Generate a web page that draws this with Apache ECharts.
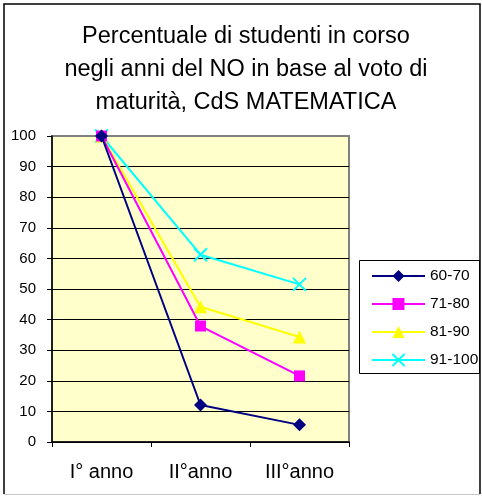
<!DOCTYPE html>
<html>
<head>
<meta charset="utf-8">
<script src="https://cdn.jsdelivr.net/npm/echarts@6/dist/echarts.min.js"></script>
<style>html,body{margin:0;padding:0;background:#fff}#c{width:482px;height:496px}</style>
</head>
<body>
<div id="c"></div>
<script>
const categories = ['I° anno', 'II°anno', 'III°anno'];
const seriesNames = ['60-70', '71-80', '81-90', '91-100'];
const v6070 = [100, 12.1, 5.6];
const v7180 = [100, 37.9, 21.6];
const v8190 = [100, 44.2, 34.3];
const v91100 = [100, 61.2, 51.5];
const yTicks = [0, 10, 20, 30, 40, 50, 60, 70, 80, 90, 100];

const colors = ['#000080', '#FF00FF', '#FFFF00', '#00FFFF'];
const symbols = ['diamond', 'rect', 'triangle', 'path://M0,0L10,10M10,0L0,10'];
const symbolSizes = [13, 11, 13, 13];
const values = [v6070, v7180, v8190, v91100];

const chart = echarts.init(document.getElementById('c'), null, {renderer: 'canvas'});
const font = 'Liberation Sans, Arial, sans-serif';

const splitColors = yTicks.map((t, i) => i === yTicks.length - 1 ? '#808080' : '#000000');

chart.setOption({
  animation: false,
  textStyle: {fontFamily: font},
  title: {
    text: 'Percentuale di studenti in corso\nnegli anni del NO in base al voto di\nmaturità, CdS MATEMATICA',
    left: 241, textAlign: 'center', top: 15,
    textStyle: {fontFamily: font, fontSize: 23.5, fontWeight: 'normal', color: '#000', lineHeight: 33}
  },
  graphic: [
    {type: 'polyline', shape: {points: [[4, 494], [4, 4], [480, 4], [480, 494]]}, style: {stroke: '#000', lineWidth: 1.5, fill: null}, silent: true},
    {type: 'line', shape: {x1: 4, y1: 494.5, x2: 480, y2: 494.5}, style: {stroke: '#c8c8c8', lineWidth: 1}, silent: true},
    {type: 'rect', shape: {x: 359.5, y: 260.5, width: 120, height: 113}, style: {stroke: '#000', lineWidth: 1, fill: null}, silent: true, z: 100}
  ],
  legend: {
    orient: 'vertical',
    left: 360, top: 261,
    padding: [7, 0, 0, 11],
    itemGap: 12,
    itemWidth: 53, itemHeight: 15,
    data: seriesNames,
    textStyle: {fontFamily: font, fontSize: 15.5, color: '#000'}
  },
  grid: {
    left: 52, right: 133, top: 136, bottom: 54,
    show: true, backgroundColor: '#FFFFCC', borderColor: '#808080', borderWidth: 2
  },
  xAxis: {
    type: 'category', data: categories, boundaryGap: true,
    axisLine: {lineStyle: {color: '#000', width: 1.5}},
    axisTick: {show: true, length: 5, lineStyle: {color: '#000'}},
    axisLabel: {fontFamily: font, fontSize: 20, color: '#000', margin: 20}
  },
  yAxis: {
    type: 'value', min: 0, max: 100, interval: 10,
    axisLine: {show: true, lineStyle: {color: '#000', width: 1.5}},
    axisTick: {show: true, length: 5, lineStyle: {color: '#000'}},
    axisLabel: {fontFamily: font, fontSize: 15, color: '#000', margin: 16},
    splitLine: {show: true, lineStyle: {color: splitColors, width: 1}}
  },
  series: seriesNames.map((name, i) => ({
    name: name, type: 'line', data: values[i],
    symbol: symbols[i], symbolSize: symbolSizes[i],
    lineStyle: {color: colors[i], width: 2},
    itemStyle: i === 3 ? {color: colors[i], borderColor: colors[i], borderWidth: 2} : {color: colors[i], borderWidth: 0},
    z: 10 - i
  }))
});
</script>
</body>
</html>
